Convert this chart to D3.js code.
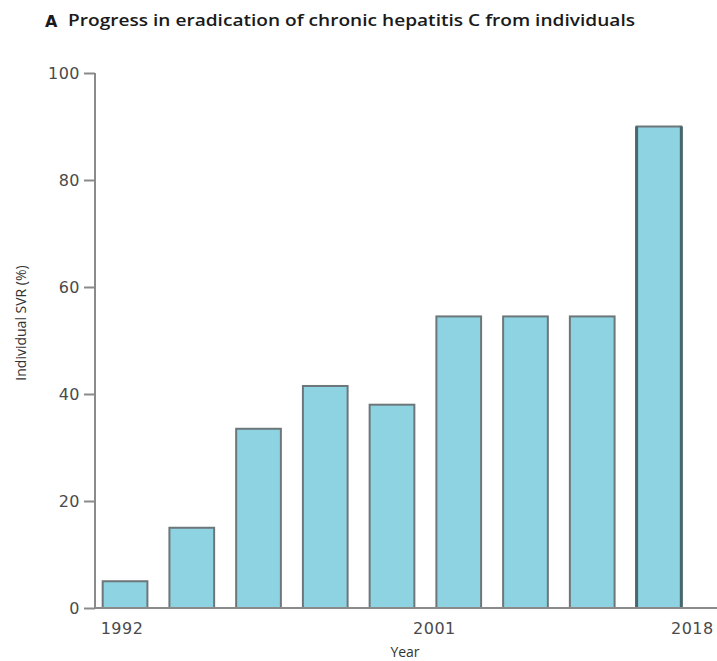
<!DOCTYPE html>
<html>
<head>
<meta charset="utf-8">
<script src="https://cdn.jsdelivr.net/npm/d3@7/dist/d3.min.js"></script>
<style>
  html, body { margin: 0; padding: 0; background: #fff; }
  svg { display: block; }
</style>
</head>
<body>
<svg id="chart" width="717" height="661"></svg>
<script>
// Sustained virological response (%) achieved per treatment era
const categories = ["IFN 6m", "IFN 12m", "IFN+RBV", "PegIFN", "PegIFN 48w", "PegIFN+RBV", "PegIFN+RBV 48w", "PI+PegIFN+RBV", "DAA"];
const svrValues = [5, 15, 33.5, 41.5, 38, 54.5, 54.5, 54.5, 90];
const yTicks = [0, 20, 40, 60, 80, 100];
const yearLabels = ["1992", "2001", "2018"];

const titleLetter = "A";
const titleText = "Progress in eradication of chronic hepatitis C from individuals";
const yAxisTitle = "Individual SVR (%)";
const xAxisTitle = "Year";

const svg = d3.select("#chart");
const W = 717, H = 661;
const axisX = 95;

const y = d3.scaleLinear().domain([0, 100]).range([608, 73]);
const x = d3.scaleBand()
  .domain(d3.range(categories.length))
  .range([96, 688])
  .paddingInner(0.33)
  .paddingOuter(0.1);
const bw = x.bandwidth();

// Title
svg.append("text")
  .attr("x", 45).attr("y", 27)
  .attr("font-family", "DejaVu Sans, sans-serif")
  .attr("font-weight", "bold")
  .attr("font-size", 16)
  .attr("fill", "#1a1a1a")
  .text(titleLetter);
svg.append("text")
  .attr("x", 68).attr("y", 26)
  .attr("font-family", "Open Sans, sans-serif")
  .attr("font-weight", 600)
  .attr("font-size", 17)
  .attr("fill", "#1a1a1a")
  .attr("textLength", 567)
  .attr("lengthAdjust", "spacingAndGlyphs")
  .text(titleText);

// Bars
const last = svrValues.length - 1;
svg.append("g").selectAll("rect")
  .data(svrValues)
  .join("rect")
  .attr("x", (d, i) => x(i))
  .attr("y", d => y(d))
  .attr("width", bw)
  .attr("height", d => y(0) - y(d))
  .attr("fill", "#8dd3e2")
  .attr("stroke", "#6d7678")
  .attr("stroke-width", 2);

// Darker side edges on the most recent era
svg.append("g").selectAll("line")
  .data([0, 1])
  .join("line")
  .attr("x1", k => x(last) + k * bw)
  .attr("x2", k => x(last) + k * bw)
  .attr("y1", y(svrValues[last]))
  .attr("y2", y(0))
  .attr("stroke", "#47666d")
  .attr("stroke-width", 3);

// Y axis
const yAxis = d3.axisLeft(y).tickValues(yTicks).tickSize(11).tickPadding(4);
const gy = svg.append("g")
  .attr("transform", `translate(${axisX},0)`)
  .call(yAxis);
gy.select(".domain").attr("stroke", "#8a8a8a").attr("stroke-width", 2)
  .attr("d", `M0,${y(100)}V${y(0)}`);
gy.selectAll(".tick line").attr("stroke", "#8a8a8a").attr("stroke-width", 2);
gy.selectAll(".tick text")
  .attr("font-family", "DejaVu Sans, sans-serif")
  .attr("font-size", 16)
  .attr("letter-spacing", 0.5)
  .attr("fill", "#4a4a4a");

// X baseline
svg.append("line")
  .attr("x1", axisX - 1).attr("x2", W)
  .attr("y1", y(0)).attr("y2", y(0))
  .attr("stroke", "#8a8a8a").attr("stroke-width", 2);

// Year labels: start of the first era, the 2001 boundary, and the latest era
const yearPos = [
  x(0) + bw / 2 - 3,
  x(5) - 2,
  x(last) + bw + 11
];
svg.append("g").selectAll("text")
  .data(yearLabels)
  .join("text")
  .attr("x", (d, i) => yearPos[i])
  .attr("y", 634)
  .attr("text-anchor", "middle")
  .attr("font-family", "DejaVu Sans, sans-serif")
  .attr("font-size", 16)
  .attr("letter-spacing", 0.5)
  .attr("fill", "#4a4a4a")
  .text(d => d);

// Axis titles
svg.append("text")
  .attr("x", 405).attr("y", 657)
  .attr("text-anchor", "middle")
  .attr("font-family", "Open Sans, sans-serif")
  .attr("font-size", 14)
  .attr("fill", "#333")
  .text(xAxisTitle);
svg.append("text")
  .attr("transform", "translate(26,323) rotate(-90)")
  .attr("text-anchor", "middle")
  .attr("font-family", "Open Sans, sans-serif")
  .attr("font-size", 14)
  .attr("fill", "#333")
  .text(yAxisTitle);
</script>
</body>
</html>
